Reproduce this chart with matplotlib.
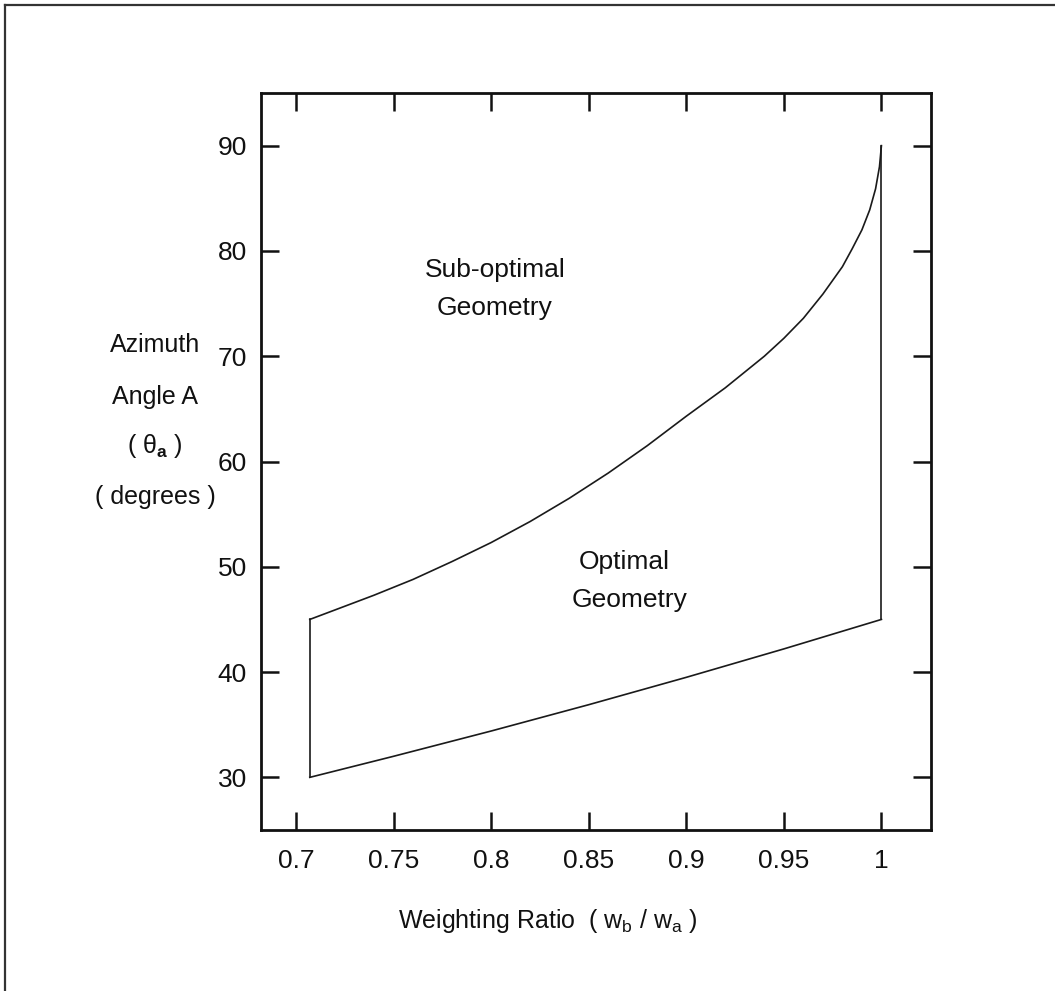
import numpy as np
import matplotlib
matplotlib.use("Agg")
import matplotlib.pyplot as plt
from matplotlib.lines import Line2D

# ---- data ----
upper_w = [0.7071, 0.72, 0.74, 0.76, 0.78, 0.80, 0.82, 0.84, 0.86, 0.88, 0.90,
           0.92, 0.94, 0.95, 0.96, 0.97, 0.98, 0.985, 0.99, 0.994, 0.997, 0.999, 1.0]
upper_theta = [45.0, 45.9, 47.3, 48.8, 50.5, 52.3, 54.3, 56.5, 58.9, 61.5, 64.3,
               67.0, 70.0, 71.7, 73.6, 75.9, 78.5, 80.2, 82.0, 83.9, 85.9, 88.0, 90.0]
lower_w = [0.7071, 0.75, 0.80, 0.85, 0.90, 0.95, 1.0]
lower_theta = [30.0, 32.0, 34.4, 36.9, 39.5, 42.2, 45.0]

xticks = [0.7, 0.75, 0.8, 0.85, 0.9, 0.95, 1.0]
xticklabels = ["0.7", "0.75", "0.8", "0.85", "0.9", "0.95", "1"]
yticks = [30, 40, 50, 60, 70, 80, 90]

plt.rcParams['font.family'] = ['Liberation Sans', 'DejaVu Sans']
plt.rcParams['mathtext.fontset'] = 'custom'
plt.rcParams['mathtext.rm'] = 'Liberation Sans'
plt.rcParams['mathtext.it'] = 'Liberation Sans'
plt.rcParams['mathtext.bf'] = 'Liberation Sans:bold'

W, H = 1055, 991
fig = plt.figure(figsize=(W / 100, H / 100), dpi=100)

# outer frame (left and top edges visible)
fx0, fy0 = 5 / W, 1 - 5 / H
fig.add_artist(Line2D([fx0, fx0], [0, fy0], transform=fig.transFigure, color='#333333', lw=1.6))
fig.add_artist(Line2D([fx0, 1], [fy0, fy0], transform=fig.transFigure, color='#333333', lw=1.6))

ax = fig.add_axes([261 / W, 1 - 830 / H, (931 - 261) / W, (830 - 93) / H])

# closed region outline
lc = '#1a1a1a'
ax.plot(upper_w, upper_theta, color=lc, lw=1.2, solid_joinstyle='round')
ax.plot(lower_w, lower_theta, color=lc, lw=1.2, solid_joinstyle='round')
ax.plot([lower_w[0], upper_w[0]], [lower_theta[0], upper_theta[0]], color=lc, lw=1.2)
ax.plot([lower_w[-1], upper_w[-1]], [lower_theta[-1], upper_theta[-1]], color=lc, lw=1.2)

ax.set_xlim(0.6821, 1.0254)
ax.set_ylim(25, 95)
ax.set_xticks(xticks)
ax.set_xticklabels(xticklabels)
ax.set_yticks(yticks)
ax.tick_params(direction='in', length=13, width=1.8, labelsize=19, top=True, right=True,
               color='#111111', labelcolor='#111111')
ax.tick_params(axis='x', pad=14)
ax.tick_params(axis='y', pad=10)
for s in ax.spines.values():
    s.set_linewidth(2.0)
    s.set_color('#111111')

ax.text(0.802, 78.2, "Sub-optimal", ha='center', va='center', fontsize=19, color='#111111')
ax.text(0.802, 74.6, "Geometry", ha='center', va='center', fontsize=19, color='#111111')
ax.text(0.868, 50.5, "Optimal", ha='center', va='center', fontsize=19, color='#111111')
ax.text(0.871, 46.8, "Geometry", ha='center', va='center', fontsize=19, color='#111111')

# y label as stacked text
ylx = 155 / W
for txt, ypix in [("Azimuth", 345), ("Angle A", 397), (r"( $\theta_{\mathbf{a}}$ )", 446), ("( degrees )", 497)]:
    fig.text(ylx, 1 - ypix / H, txt, ha='center', va='center', fontsize=18, color='#111111')

fig.text(548 / W, 1 - 921 / H, r"Weighting Ratio  ( $\mathrm{w}_{\mathrm{b}}$ / $\mathrm{w}_{\mathrm{a}}$ )",
         ha='center', va='center', fontsize=18, color='#111111')

fig.savefig("out.png", dpi=100, facecolor='white')
